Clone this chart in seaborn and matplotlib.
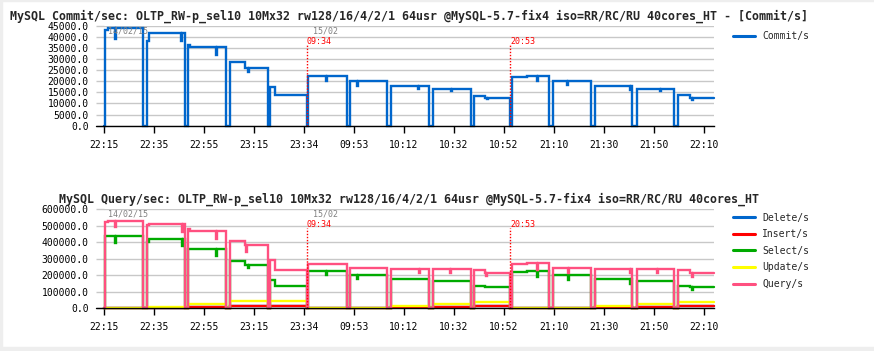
import numpy as np
import pandas as pd
import matplotlib
matplotlib.use("Agg")
import matplotlib.pyplot as plt
import seaborn as sns
from matplotlib.lines import Line2D
from matplotlib.patches import Rectangle
from matplotlib.ticker import FormatStrFormatter, MultipleLocator

# ---------------- data ----------------
tick_labels = ["22:15", "22:35", "22:55", "23:15", "23:34", "09:53", "10:12",
               "10:32", "10:52", "21:10", "21:30", "21:50", "22:10"]
x_max = 12.2

# test blocks (in tick units)
block_start = [0.01, 0.86, 1.68, 2.52, 3.32, 4.08, 4.92, 5.74, 6.58, 7.40,
               8.16, 8.98, 9.82, 10.66, 11.48]
block_end = [0.78, 1.62, 2.44, 3.28, 4.06, 4.86, 5.66, 6.50, 7.34, 8.12,
             8.90, 9.74, 10.56, 11.40, 12.20]
early_len = [0.06, 0.04, 0.04, 0.30, 0.10, 0.0, 0.0, 0.0, 0.0, 0.22,
             0.30, 0.0, 0.0, 0.0, 0.24]

commit_early = [43000, 38000, 36500, 28500, 17300, 22400, 20200, 17900, 16400,
                13200, 21800, 20100, 18000, 16500, 13800]
commit_steady = [44000, 41600, 35400, 26100, 13700, 22500, 20200, 17900, 16500,
                 12600, 22300, 20100, 18000, 16500, 12600]
commit_spike_x = [0.22, 1.54, 2.24, 2.88, 4.44, 5.06, 6.28, 6.94, 7.66, 8.66,
                  9.26, 10.52, 11.12, 11.76]
commit_spike_y = [39000, 38000, 32000, 24000, 20000, 18000, 16500, 15500, 12000,
                  20100, 18500, 16000, 15500, 11500]

query_early = [520000, 505000, 478000, 408000, 292000, 268000, 243000, 238000,
               238000, 232000, 265000, 245000, 238000, 238000, 230000]
query_steady = [527000, 510000, 470000, 380000, 232000, 268000, 243000, 238000,
                238000, 215000, 272000, 245000, 238000, 238000, 212000]
query_spike_x = [0.22, 1.55, 2.24, 2.85, 6.30, 6.93, 7.64, 8.65, 9.28, 10.52,
                 11.06, 11.76]
query_spike_y = [493000, 459000, 417000, 342000, 211000, 211000, 195000, 231000,
                 211000, 211000, 215000, 191000]

select_early = [435000, 400000, 358000, 286000, 171000, 227000, 201000, 177000,
                167000, 133000, 218000, 199000, 177000, 167000, 135000]
select_steady = [438000, 417000, 356000, 262000, 137000, 227000, 201000, 177000,
                 167000, 128000, 225000, 199000, 177000, 167000, 128000]
select_spike_x = [0.22, 1.55, 2.24, 2.88, 4.44, 5.06, 8.66, 9.28, 10.52, 11.76]
select_spike_y = [392000, 376000, 316000, 241000, 201000, 175000, 191000, 171000,
                  145000, 110000]

update_steady = [4000, 10000, 28000, 44000, 47000, 4000, 4000, 16000, 26000,
                 40000, 4000, 4000, 16000, 26000, 40000]
insert_steady = [1000, 4000, 8000, 12000, 14000, 1000, 1000, 6000, 10000,
                 14000, 1000, 1000, 6000, 10000, 14000]
delete_steady = [1000, 4000, 8000, 12000, 14000, 1000, 1000, 6000, 10000,
                 14000, 1000, 1000, 6000, 10000, 14000]

mark_x = [4.06, 8.12]
mark_labels = ["09:34", "20:53"]
date_x = [0.08, 4.18]
date_labels = ["14/02/15", "15/02"]

top_title = ("MySQL Commit/sec: OLTP_RW-p_sel10 10Mx32 rw128/16/4/2/1 64usr "
             "@MySQL-5.7-fix4 iso=RR/RC/RU 40cores_HT - [Commit/s]")
bot_title = ("MySQL Query/sec: OLTP_RW-p_sel10 10Mx32 rw128/16/4/2/1 64usr "
             "@MySQL-5.7-fix4 iso=RR/RC/RU 40cores_HT")

colors = {"Commit/s": "#0066cc", "Delete/s": "#0066cc", "Insert/s": "#ff0000",
          "Select/s": "#00aa00", "Update/s": "#ffff00", "Query/s": "#ff5080"}


def build(early, steady, spx=(), spy=()):
    pts = [(0.0, 0.0)]
    for i, (a, b) in enumerate(zip(block_start, block_end)):
        seg = [(a, early[i]), (a + early_len[i], steady[i])]
        for sx, sy in zip(spx, spy):
            if a + early_len[i] < sx < b - 0.02:
                seg += [(sx, sy), (sx + 0.02, steady[i])]
        seg.sort(key=lambda p: p[0])
        pts += seg
        if b < x_max:
            pts.append((b, 0.0))
    xs, ys = [pts[0][0]], [pts[0][1]]
    for k in range(1, len(pts)):
        xs += [pts[k][0], pts[k][0]]
        ys += [pts[k - 1][1], pts[k][1]]
    xs.append(x_max)
    ys.append(pts[-1][1])
    return xs, ys


def frame(series):
    rows = []
    for name, (xs, ys) in series.items():
        rows.append(pd.DataFrame({"x": xs, "y": ys, "series": name}))
    return pd.concat(rows, ignore_index=True)


top_df = frame({"Commit/s": build(commit_early, commit_steady, commit_spike_x, commit_spike_y)})
bot_df = frame({
    "Delete/s": build(delete_steady, delete_steady),
    "Insert/s": build(insert_steady, insert_steady),
    "Select/s": build(select_early, select_steady, select_spike_x, select_spike_y),
    "Update/s": build(update_steady, update_steady),
    "Query/s": build(query_early, query_steady, query_spike_x, query_spike_y),
})

# ---------------- figure ----------------
sns.set_theme(style="white")
plt.rcParams["font.family"] = ["DejaVu Sans Mono", "DejaVu Sans"]

W, H = 874, 351
fig = plt.figure(figsize=(W / 100, H / 100), dpi=100)
fig.patch.set_facecolor("white")


def px_axes(left, top, right, bottom):
    return fig.add_axes([left / W, 1 - bottom / H, (right - left) / W, (bottom - top) / H])


ax1 = px_axes(104, 25.7, 714, 125.7)
ax2 = px_axes(104, 209, 714, 308.3)

for ax, df, ymax, ystep, order in [
        (ax1, top_df, 45000, 5000, ["Commit/s"]),
        (ax2, bot_df, 600000, 100000, ["Delete/s", "Insert/s", "Select/s", "Update/s", "Query/s"])]:
    sns.lineplot(data=df, x="x", y="y", hue="series", hue_order=order,
                 palette=colors, estimator=None, sort=False, lw=1.7,
                 legend=False, ax=ax, clip_on=False, solid_joinstyle="miter")
    ax.set_xlim(0, x_max)
    ax.set_ylim(0, ymax)
    ax.set_xticks(range(len(tick_labels)))
    ax.set_xticklabels(tick_labels)
    ax.yaxis.set_major_locator(MultipleLocator(ystep))
    ax.yaxis.set_major_formatter(FormatStrFormatter("%.1f"))
    ax.set_xlabel("")
    ax.set_ylabel("")
    ax.set_facecolor("white")
    ax.grid(False)
    ax.yaxis.grid(True, color="#c8c8c8", lw=1)
    ax.set_axisbelow(True)
    for s in ["top", "left", "right"]:
        ax.spines[s].set_visible(False)
    ax.spines["bottom"].set_color("black")
    ax.spines["bottom"].set_linewidth(1)
    ax.tick_params(axis="y", which="major", left=True, length=6, width=1,
                   color="#c8c8c8", pad=5, labelsize=7, labelcolor="black")
    ax.tick_params(axis="x", which="major", bottom=True, length=5, width=1,
                   color="black", pad=5, labelsize=7, labelcolor="black")
    ax.add_line(Line2D([-0.013, 0], [0, 0], transform=ax.transAxes, color="black",
                       lw=1, clip_on=False))
    for xd, lab in zip(date_x, date_labels):
        ax.text(xd, 0.95, lab, transform=ax.get_xaxis_transform(), color="#808080",
                fontsize=6, ha="left", va="center")
    for xm, lab in zip(mark_x, mark_labels):
        ax.axvline(xm, ymin=0, ymax=0.81, color="red", lw=1, ls=(0, (1, 1.2)))
        ax.text(xm, 0.845, lab, transform=ax.get_xaxis_transform(), color="red",
                fontsize=6, ha="left", va="center")

fig.text(409 / W, 1 - 16.5 / H, top_title, ha="center", va="center", fontsize=8.4,
         fontweight="bold")
fig.text(409 / W, 1 - 199.5 / H, bot_title, ha="center", va="center", fontsize=8.4,
         fontweight="bold")

leg_kw = dict(loc="upper left", bbox_transform=fig.transFigure, frameon=False,
              fontsize=7, handlelength=2.3, handletextpad=0.7, borderpad=0,
              borderaxespad=0, labelspacing=0.68)
ax1.legend(handles=[Line2D([], [], color=colors["Commit/s"], lw=2.2)],
           labels=["Commit/s"], bbox_to_anchor=(733 / W, 1 - 31.5 / H), **leg_kw)
bot_names = ["Delete/s", "Insert/s", "Select/s", "Update/s", "Query/s"]
ax2.legend(handles=[Line2D([], [], color=colors[n], lw=2.2) for n in bot_names],
           labels=bot_names, bbox_to_anchor=(733 / W, 1 - 212.5 / H), **leg_kw)

# light frame around the picture
for (x0, y0, w, h) in [(0, 0, 2, H), (0, H - 4, W, 4), (0, 0, W, 1)]:
    fig.patches.append(Rectangle((x0 / W, 1 - (y0 + h) / H), w / W, h / H,
                                 transform=fig.transFigure, color="#eeeeee", zorder=-1))

fig.savefig("out.png", dpi=100)
